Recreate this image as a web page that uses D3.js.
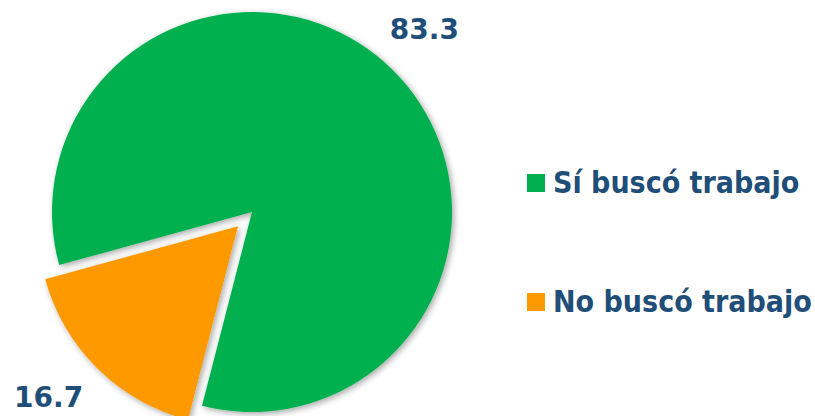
<!DOCTYPE html>
<html>
<head>
<meta charset="utf-8">
<script src="https://cdn.jsdelivr.net/npm/d3@7"></script>
<style>
  body { margin: 0; background: #fff; }
</style>
</head>
<body>
<div id="chart-area"></div>
<script>
var categories = ["Sí buscó trabajo", "No buscó trabajo"];
var values = [83.3, 16.7];
var colors = ["#00B050", "#FF9900"];
var explode = [0, 20];

var width = 815, height = 416;
var cx = 252, cy = 212, radius = 200;

var svg = d3.select("#chart-area")
  .append("svg")
  .attr("width", width)
  .attr("height", height);

var defs = svg.append("defs");
var filter = defs.append("filter")
  .attr("id", "shadow")
  .attr("x", "-20%").attr("y", "-20%")
  .attr("width", "140%").attr("height", "140%");
filter.append("feDropShadow")
  .attr("dx", 2).attr("dy", 2)
  .attr("stdDeviation", 3)
  .attr("flood-color", "#000")
  .attr("flood-opacity", 0.35);

var data = categories.map((c, i) => ({ name: c, value: values[i], color: colors[i], explode: explode[i] }));

var startAngle = -105.4 * Math.PI / 180;
var pie = d3.pie()
  .sort(null)
  .value(d => d.value)
  .startAngle(startAngle)
  .endAngle(startAngle + 2 * Math.PI);

var arc = d3.arc().innerRadius(0).outerRadius(radius);
var labelArc = d3.arc().innerRadius(250).outerRadius(250);
// small hand nudges so labels sit like the original
var nudge = [[-3, -5], [-14, -7]];

var arcs = pie(data);

var g = svg.append("g").attr("transform", "translate(" + cx + "," + cy + ")");

function offset(d) {
  var mid = (d.startAngle + d.endAngle) / 2;
  return [Math.sin(mid) * d.data.explode, -Math.cos(mid) * d.data.explode];
}

g.selectAll("path.slice")
  .data(arcs)
  .enter()
  .append("path")
    .attr("class", "slice")
    .attr("d", arc)
    .attr("fill", d => d.data.color)
    .attr("filter", "url(#shadow)")
    .attr("transform", d => "translate(" + offset(d) + ")");

g.selectAll("text.val")
  .data(arcs)
  .enter()
  .append("text")
    .attr("class", "val")
    .attr("transform", (d, i) => {
      var c = labelArc.centroid(d);
      var o = offset(d);
      return "translate(" + (c[0] + o[0] + nudge[i][0]) + "," + (c[1] + o[1] + nudge[i][1]) + ")";
    })
    .attr("text-anchor", "middle")
    .attr("dy", "0.35em")
    .attr("font-family", "'DejaVu Sans', sans-serif")
    .attr("font-weight", "bold")
    .attr("font-size", 28)
    .attr("fill", "#1F4E79")
    .text(d => d.data.value.toFixed(1));

var legend = svg.append("g").attr("transform", "translate(527,174)");
var item = legend.selectAll("g")
  .data(data)
  .enter()
  .append("g")
    .attr("transform", (d, i) => "translate(0," + (i * 119) + ")");

item.append("rect")
  .attr("width", 18)
  .attr("height", 18)
  .attr("fill", d => d.color);

item.append("text")
  .attr("x", 26)
  .attr("y", 19)
  .attr("font-family", "'DejaVu Sans Condensed', 'DejaVu Sans', sans-serif")
  .attr("font-stretch", "condensed")
  .attr("font-weight", "bold")
  .attr("font-size", 30)
  .attr("fill", "#1F4E79")
  .text(d => d.name);
</script>
</body>
</html>
